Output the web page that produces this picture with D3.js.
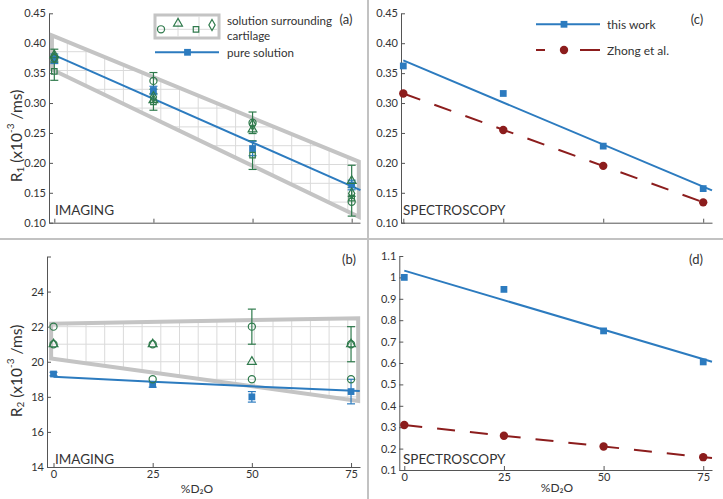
<!DOCTYPE html>
<html><head><meta charset="utf-8">
<script src="https://cdn.jsdelivr.net/npm/d3@7"></script>
<style>
body{margin:0;background:#fff;}
svg{display:block;font-family:Lato,"Open Sans",sans-serif;}
</style></head><body>
<svg id="chart" width="723" height="499"></svg>
<script>
// ---------- data ----------
const xValues = [0, 25, 50, 75];
const xTickLabels = ["0", "25", "50", "75"];
const fitEnd = 77.2;

// (a) imaging R1
const aPure = [0.374, 0.321, 0.224, 0.163];
const aPureErr = [0.008, 0.007, 0.012, 0.008];
const aCircle = [0.375, 0.337, 0.267, 0.135];
const aCircleErr = [0, 0.014, 0.018, 0.024];
const aTriangle = [0.380, 0.305, 0.256, 0.170];
const aTriangleErr = [0.010, 0, 0, 0.026];
const aSquare = [0.353, 0.302, 0.213, 0.141];
const aSquareErr = [0.015, 0.014, 0.024, 0];
const aDiamond = [0.376, 0.310, 0.264, 0.149];
const aBandX = [-0.6, 76.8];
const aBandUpper = [0.413, 0.202];
const aBandLower = [0.356, 0.110];
const aTicks = [0.10, 0.15, 0.20, 0.25, 0.30, 0.35, 0.40, 0.45];

// (b) imaging R2
const bPure = [19.3, 18.7, 18.0, 18.3];
const bPureErr = [0.1, 0.15, 0.3, 0.7];
const bFitX = [0, 25, 50, 77.2];
const bFit = [19.15, 18.86, 18.6, 18.33];
const bCircle = [22, 19, 19, 19];
const bTriangle = [21, 21, 20, 21];
const bCircle2 = [21, 21, 22, 21];
const bCircle2Err = [0, 0, 1, 1];
const bBandX = [-0.6, 76.8];
const bBandUpper = [22.17, 22.48];
const bBandLower = [20.18, 17.77];
const bTicks = [14, 16, 18, 20, 22, 24, 26];

// (c) spectroscopy R1
const cThisWork = [0.362, 0.316, 0.228, 0.157];
const cZhong = [0.316, 0.255, 0.195, 0.134];
const cTicks = [0.10, 0.15, 0.20, 0.25, 0.30, 0.35, 0.40, 0.45];

// (d) spectroscopy R2
const dThisWork = [1.0, 0.944, 0.75, 0.605];
const dZhong = [0.31, 0.26, 0.21, 0.16];
const dTicks = [0.1, 0.2, 0.3, 0.4, 0.5, 0.6, 0.7, 0.8, 0.9, 1.0, 1.1];

// ---------- style ----------
const BLUE = "#2c7bbf", GREEN = "#2f7a4c", RED = "#8c1d1d";
const BAND = "#c4c4c4", GRID = "#dadada", AXIS = "#555", TEXT = "#333", SEP = "#c2c2c2";
const FONT = "Lato, 'Open Sans', sans-serif";

const svg = d3.select("#chart");

// separators
svg.append("line").attr("x1", 0).attr("x2", 723).attr("y1", 239).attr("y2", 239)
  .attr("stroke", SEP).attr("stroke-width", 2);
svg.append("line").attr("x1", 368).attr("x2", 368).attr("y1", 0).attr("y2", 499)
  .attr("stroke", SEP).attr("stroke-width", 2);

function linFit(xs, ys) {
  const mx = d3.mean(xs), my = d3.mean(ys);
  const b = d3.sum(xs, (x, i) => (x - mx) * (ys[i] - my)) / d3.sum(xs, x => (x - mx) * (x - mx));
  return [my - b * mx, b];
}

function makePanel(cfg) {
  const x = d3.scaleLinear().domain(cfg.xDomain).range(cfg.xRange);
  const y = d3.scaleLinear().domain(cfg.yDomain).range(cfg.yRange);
  const g = svg.append("g");
  const yAxis = d3.axisLeft(y).tickValues(cfg.yTicks).tickSize(-4).tickSizeOuter(0).tickPadding(3)
    .tickFormat(cfg.yFormat);
  const xAxis = d3.axisBottom(x).tickValues(xValues).tickSize(-4).tickSizeOuter(0).tickPadding(3)
    .tickFormat((d, i) => cfg.xLabels ? xTickLabels[i] : "");
  const ya = g.append("g").attr("transform", `translate(${cfg.xRange[0]},0)`).call(yAxis);
  const xa = g.append("g").attr("transform", `translate(0,${cfg.yRange[0]})`).call(xAxis);
  [ya, xa].forEach(a => {
    a.attr("font-family", FONT).attr("font-size", 11);
    a.select(".domain").attr("stroke", AXIS).attr("stroke-width", 1);
    a.selectAll(".tick line").attr("stroke", AXIS);
    a.selectAll(".tick text").attr("fill", TEXT);
  });
  return {g, x, y};
}

function drawBand(p, bx, up, lo, id, hGridVals, hGridPx) {
  const pts = [[bx[0], up[0]], [bx[1], up[1]], [bx[1], lo[1]], [bx[0], lo[0]]]
    .map(d => [p.x(d[0]), p.y(d[1])]);
  const clip = svg.append("clipPath").attr("id", id);
  clip.append("polygon").attr("points", pts.map(d => d.join(",")).join(" "));
  const gg = p.g.append("g").attr("clip-path", `url(#${id})`);
  const x0 = p.x(bx[0]), x1 = p.x(bx[1]);
  const yTop = d3.min(pts, d => d[1]), yBot = d3.max(pts, d => d[1]);
  for (let vx = 67.3 - 18.7 * 2; vx < x1; vx += 18.7) {
    gg.append("line").attr("x1", vx).attr("x2", vx).attr("y1", yTop).attr("y2", yBot)
      .attr("stroke", GRID).attr("stroke-width", 1);
  }
  const hLines = hGridVals ? hGridVals.map(v => p.y(v)) : hGridPx;
  hLines.forEach(hy => {
    gg.append("line").attr("x1", x0).attr("x2", x1).attr("y1", hy).attr("y2", hy)
      .attr("stroke", GRID).attr("stroke-width", 1);
  });
  p.g.append("polygon").attr("points", pts.map(d => d.join(",")).join(" "))
    .attr("fill", "none").attr("stroke", BAND).attr("stroke-width", 4);
}

const symTypes = {
  circle: d3.symbol().type(d3.symbolCircle).size(40),
  triangle: d3.symbol().type(d3.symbolTriangle).size(34),
  square: d3.symbol().type(d3.symbolSquare).size(30),
  diamond: d3.symbol().type(d3.symbolDiamond).size(34),
  bsquare: d3.symbol().type(d3.symbolSquare).size(46)
};

function drawErr(p, vals, errs, color) {
  vals.forEach((v, i) => {
    const e = errs[i];
    if (!e) return;
    const cx = p.x(xValues[i]);
    p.g.append("line").attr("x1", cx).attr("x2", cx).attr("y1", p.y(v - e)).attr("y2", p.y(v + e))
      .attr("stroke", color).attr("stroke-width", 1.2);
    [v - e, v + e].forEach(ev => {
      p.g.append("line").attr("x1", cx - 4).attr("x2", cx + 4).attr("y1", p.y(ev)).attr("y2", p.y(ev))
        .attr("stroke", color).attr("stroke-width", 1.2);
    });
  });
}

function drawMarkers(p, vals, type, color, filled) {
  p.g.selectAll(null).data(vals).join("path")
    .attr("d", symTypes[type])
    .attr("transform", (d, i) => `translate(${p.x(xValues[i])},${p.y(d)})`)
    .attr("fill", filled ? color : "none")
    .attr("stroke", color).attr("stroke-width", filled ? 0 : 1.2);
}

function drawCircles(p, vals, color) {
  p.g.selectAll(null).data(vals).join("circle")
    .attr("cx", (d, i) => p.x(xValues[i])).attr("cy", d => p.y(d)).attr("r", 4.2)
    .attr("fill", color);
}

function drawFit(p, vals, color, dashed) {
  const [a, b] = linFit(xValues, vals);
  const ln = p.g.append("line")
    .attr("x1", p.x(0)).attr("y1", p.y(a))
    .attr("x2", p.x(fitEnd)).attr("y2", p.y(a + b * fitEnd))
    .attr("stroke", color).attr("stroke-width", 2);
  if (dashed) ln.attr("stroke-dasharray", "18,15");
}

function label(txt, x, y, size, anchor) {
  return svg.append("text").attr("x", x).attr("y", y).attr("font-size", size)
    .attr("font-family", FONT).attr("fill", TEXT).attr("dominant-baseline", "central")
    .attr("text-anchor", anchor || "start").text(txt);
}

function yTitle(sub, cx, cy) {
  const t = svg.append("text").attr("transform", `translate(${cx},${cy}) rotate(-90)`)
    .attr("text-anchor", "middle").attr("font-family", FONT).attr("font-size", 15.5).attr("fill", TEXT)
    .attr("dominant-baseline", "central");
  t.append("tspan").text("R");
  t.append("tspan").attr("font-size", 10).attr("dy", 4).text(sub);
  t.append("tspan").attr("dy", -4).text(" (x10");
  t.append("tspan").attr("font-size", 10).attr("dy", -6).text("-3");
  t.append("tspan").attr("dy", 6).text(" /ms)");
}

// ---------- panel (a) ----------
const pa = makePanel({xDomain: [-1.34, 77.1], xRange: [49, 360], yDomain: [0.10, 0.45], yRange: [222.7, 13.3],
  yTicks: aTicks, yFormat: d3.format(".2f"), xLabels: false});
drawBand(pa, aBandX, aBandUpper, aBandLower, "clipA", null, d3.range(-4, 12).map(k => 89.3 + k * 18.8));
drawFit(pa, aPure, BLUE, false);
drawErr(pa, aCircle, aCircleErr, GREEN);
drawErr(pa, aTriangle, aTriangleErr, GREEN);
drawErr(pa, aSquare, aSquareErr, GREEN);
drawErr(pa, aPure, aPureErr, BLUE);
drawMarkers(pa, aPure, "bsquare", BLUE, true);
drawMarkers(pa, aCircle, "circle", GREEN, false);
drawMarkers(pa, aTriangle, "triangle", GREEN, false);
drawMarkers(pa, aSquare, "square", GREEN, false);
drawMarkers(pa, aDiamond, "diamond", GREEN, false);

// legend (a)
svg.append("rect").attr("x", 155).attr("y", 15).attr("width", 64).attr("height", 23)
  .attr("fill", "#fff").attr("stroke", BAND).attr("stroke-width", 3);
[[157, 29.3, 217, 29.3], [178, 16.5, 178, 36.5], [199, 16.5, 199, 36.5]].forEach(l => {
  svg.append("line").attr("x1", l[0]).attr("y1", l[1]).attr("x2", l[2]).attr("y2", l[3])
    .attr("stroke", GRID).attr("stroke-width", 1);
});
[["circle", 161, 29.3], ["triangle", 178, 23.5], ["square", 196, 29.3], ["diamond", 212, 25]].forEach(m => {
  svg.append("path").attr("d", symTypes[m[0]]).attr("transform", `translate(${m[1]},${m[2]})`)
    .attr("fill", "none").attr("stroke", GREEN).attr("stroke-width", 1.2);
});
svg.append("line").attr("x1", 155).attr("x2", 219).attr("y1", 52.3).attr("y2", 52.3)
  .attr("stroke", BLUE).attr("stroke-width", 2);
svg.append("path").attr("d", symTypes.bsquare).attr("transform", "translate(187.5,52.3)").attr("fill", BLUE);
label("solution surrounding", 227, 20, 11.6);
label("cartilage", 227, 35, 11.6);
label("pure solution", 227, 52.3, 11.6);
label("(a)", 346, 18.5, 13, "middle");
label("IMAGING", 55, 209.5, 13.5);
yTitle("1", 16, 136);

// ---------- panel (b) ----------
const pb = makePanel({xDomain: [-1.64, 77.26], xRange: [47, 360], yDomain: [14, 26], yRange: [467, 256.5],
  yTicks: bTicks, yFormat: d => d === 26 ? "" : d, xLabels: true});
drawBand(pb, bBandX, bBandUpper, bBandLower, "clipB", [17, 18, 19, 20, 21, 22, 23], null);
pb.g.append("path").datum(bFit)
  .attr("d", d3.line().x((d, i) => pb.x(bFitX[i])).y(d => pb.y(d)).curve(d3.curveMonotoneX))
  .attr("fill", "none").attr("stroke", BLUE).attr("stroke-width", 2);
drawErr(pb, bCircle2, bCircle2Err, GREEN);
drawErr(pb, bPure, bPureErr, BLUE);
drawMarkers(pb, bPure, "bsquare", BLUE, true);
drawMarkers(pb, bCircle, "circle", GREEN, false);
drawMarkers(pb, bTriangle, "triangle", GREEN, false);
drawMarkers(pb, bCircle2, "circle", GREEN, false);
label("(b)", 349, 258.5, 13, "middle");
label("IMAGING", 55, 458.5, 13.5);
label("%D₂O", 197, 488, 12, "middle");
yTitle("2", 16, 371);

// ---------- panel (c) ----------
const pc = makePanel({xDomain: [-0.575, 77.2], xRange: [401, 712], yDomain: [0.10, 0.45], yRange: [222.7, 13.3],
  yTicks: cTicks, yFormat: d3.format(".2f"), xLabels: false});
drawFit(pc, cThisWork, BLUE, false);
drawFit(pc, cZhong, RED, true);
drawMarkers(pc, cThisWork, "bsquare", BLUE, true);
drawCircles(pc, cZhong, RED);
svg.append("line").attr("x1", 536).attr("x2", 600).attr("y1", 24.3).attr("y2", 24.3)
  .attr("stroke", BLUE).attr("stroke-width", 2);
svg.append("path").attr("d", symTypes.bsquare).attr("transform", "translate(564,24.3)").attr("fill", BLUE);
svg.append("line").attr("x1", 536).attr("x2", 600).attr("y1", 50).attr("y2", 50)
  .attr("stroke", RED).attr("stroke-width", 2).attr("stroke-dasharray", "9,35,20,40");
svg.append("circle").attr("cx", 564).attr("cy", 50).attr("r", 4.2).attr("fill", RED);
label("this work", 607, 24.3, 12);
label("Zhong et al.", 607, 50, 12);
label("(c)", 697, 18.5, 13, "middle");
label("SPECTROSCOPY", 403, 209.5, 13.5);

// ---------- panel (d) ----------
const pd = makePanel({xDomain: [-1.25, 77.2], xRange: [399.3, 712], yDomain: [0.1, 1.1], yRange: [470, 256],
  yTicks: dTicks, yFormat: d3.format("~g"), xLabels: true});
drawFit(pd, dThisWork, BLUE, false);
drawFit(pd, dZhong, RED, true);
drawMarkers(pd, dThisWork, "bsquare", BLUE, true);
drawCircles(pd, dZhong, RED);
label("(d)", 696, 259, 13, "middle");
label("SPECTROSCOPY", 403, 458.5, 13.5);
label("%D₂O", 557, 487, 12, "middle");
</script>
</body></html>
